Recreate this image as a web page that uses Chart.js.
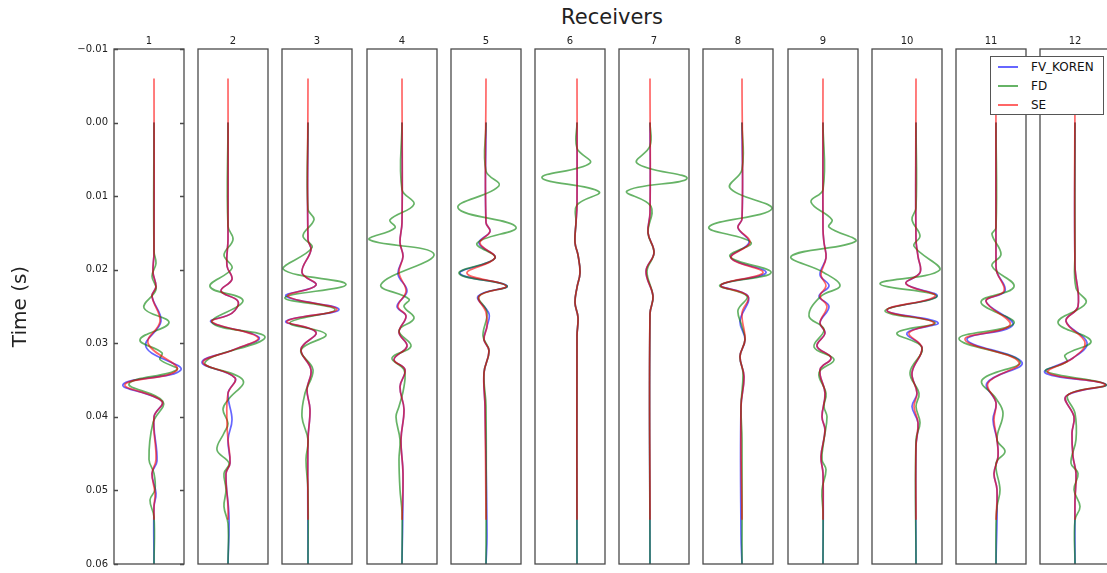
<!DOCTYPE html>
<html>
<head>
<meta charset="utf-8">
<script src="https://cdn.jsdelivr.net/npm/chart.js@4.4.1/dist/chart.umd.min.js"></script>
<style>
  html, body { margin: 0; padding: 0; background: #fff; }
  #fig { position: relative; width: 1107px; height: 573px; overflow: hidden; font-family: "DejaVu Sans", sans-serif; }
  #fig canvas { position: absolute; top: 0; }
  #suptitle { position: absolute; left: 512px; width: 200px; top: 7px; line-height: 21px; text-align: center; font-size: 21px; color: #222; }
  #legend { position: absolute; left: 990px; top: 56px; width: 114px; height: 59px; box-sizing: border-box; border: 1px solid #555; background: #fff; z-index: 5; }
  .row { position: absolute; left: 0; height: 14px; font-size: 12px; line-height: 14px; color: #111; }
  .row span.line { position: absolute; left: 7px; top: 6px; width: 20px; height: 2px; }
  .row span.txt { position: absolute; left: 40px; top: 0; white-space: nowrap; }
</style>
</head>
<body>
<div id="fig">
  <div id="suptitle">Receivers</div>
  <div id="legend"></div>
</div>
<script>
// Receivers and axes
const receivers = ["1", "2", "3", "4", "5", "6", "7", "8", "9", "10", "11", "12"];
const yTicks = [-0.01, 0, 0.01, 0.02, 0.03, 0.04, 0.05, 0.06];
const ampMin = [-40, -30, -26, -35, -35, -42, -31, -39, -35, -44, -40, -35];
const ampMax = [30, 40, 44, 35, 35, 28, 39, 31, 35, 26, 30, 35];
const seriesNames = ["FV_KOREN", "FD", "SE"];

// Traces: [time (s), amplitude] per receiver
const koren = [
  [[0,0],[0.0177,0],[0.0204,-1],[0.0223,2],[0.0236,-2],[0.0270,7],[0.0305,-8],[0.0336,27],[0.0356,-31],[0.0379,8],[0.0400,0],[0.0460,3],[0.0477,-2],[0.0504,2],[0.0522,0],[0.06,0]],
  [[0,0],[0.0159,0],[0.0195,-1],[0.0213,4],[0.0229,-7],[0.0243,10],[0.0259,4],[0.0271,-17],[0.0292,31],[0.0309,5],[0.0326,-26],[0.0347,7],[0.0368,0],[0.0404,4],[0.0431,0],[0.0463,2],[0.0477,-2],[0.0536,1],[0.06,0]],
  [[0,0],[0.0159,0],[0.0173,3],[0.0204,-6],[0.0221,8],[0.0236,-22],[0.0254,31],[0.0270,-22],[0.0285,8],[0.0308,-7],[0.0336,3],[0.0363,-1],[0.0390,2],[0.0431,0],[0.06,0]],
  [[0,0],[0.0136,0],[0.0163,-2],[0.0182,1],[0.0206,-4],[0.0229,5],[0.0250,-5],[0.0263,4],[0.0285,-3],[0.0304,5],[0.0322,-8],[0.0336,3],[0.0359,-2],[0.0390,2],[0.0431,-1],[0.0477,1],[0.06,0]],
  [[0,0],[0.0136,0],[0.0148,4],[0.0164,-7],[0.0184,9],[0.0205,-26],[0.0222,21],[0.0236,-8],[0.0260,3],[0.0277,1],[0.0295,-2],[0.0310,3],[0.0340,-2],[0.0386,-1],[0.0560,1],[0.06,0]],
  [[0,0],[0.0113,0],[0.0136,-1],[0.0163,-2],[0.0180,1],[0.0204,3],[0.0224,0],[0.0245,-2],[0.0265,1],[0.0290,0],[0.06,0]],
  [[0,0],[0.0123,0],[0.0150,-2],[0.0177,4],[0.0202,-4],[0.0236,3],[0.0260,0],[0.06,0]],
  [[0,0],[0.0131,0],[0.0143,-4],[0.0163,7],[0.0184,-11],[0.0204,24],[0.0221,-21],[0.0236,6],[0.0270,-2],[0.0295,3],[0.0318,-2],[0.0345,2],[0.0386,-1],[0.0560,-1],[0.06,0]],
  [[0,0],[0.0145,0],[0.0163,1],[0.0184,3],[0.0207,-3],[0.0222,6],[0.0236,-4],[0.0250,6],[0.0272,-3],[0.0286,2],[0.0304,-6],[0.0320,8],[0.0336,-3],[0.0368,2],[0.0400,-1],[0.0418,2],[0.0454,-2],[0.0477,0],[0.06,0]],
  [[0,0],[0.0159,0],[0.0182,2],[0.0204,4],[0.0219,-10],[0.0236,21],[0.0255,-29],[0.0272,22],[0.0286,-9],[0.0306,6],[0.0340,-4],[0.0368,1],[0.0386,-4],[0.0408,2],[0.0440,0],[0.06,0]],
  [[0,0],[0.0195,0],[0.0204,1],[0.0229,9],[0.0243,-10],[0.0275,17],[0.0295,-29],[0.0326,26],[0.0354,-9],[0.0381,0],[0.0404,-3],[0.0431,1],[0.0454,2],[0.0477,-2],[0.0499,1],[0.06,0]],
  [[0,0],[0.0195,0],[0.0250,3],[0.0270,-9],[0.0299,12],[0.0320,-2],[0.0340,-30],[0.0356,31],[0.0372,-9],[0.0400,-1],[0.0422,-3],[0.0454,-2],[0.0477,1],[0.0513,0],[0.06,0]]
];

const fd = [
  [[0,0],[0.0175,0],[0.0191,2],[0.0209,-2],[0.0227,2],[0.0252,-10],[0.0272,15],[0.0295,-14],[0.0313,8],[0.0322,6],[0.0336,23],[0.0355,-25],[0.0379,9],[0.0408,-1],[0.0458,-5],[0.0477,0],[0.0499,1],[0.0513,-4],[0.0536,0],[0.06,0]],
  [[0,0],[0.0141,0],[0.0159,5],[0.0180,-4],[0.0198,4],[0.0223,-18],[0.0242,15],[0.0272,-16],[0.0292,37],[0.0326,-23],[0.0350,15],[0.0377,0],[0.0390,-5],[0.0409,0],[0.0422,-4],[0.0445,-11],[0.0463,1],[0.0477,-4],[0.0499,-2],[0.0522,-4],[0.0545,0],[0.06,0]],
  [[0,0],[0.0118,0],[0.0132,6],[0.0154,-5],[0.0170,4],[0.0199,-25],[0.0220,38],[0.0238,-23],[0.0254,27],[0.0272,-18],[0.0288,18],[0.0309,-7],[0.0336,5],[0.0368,-3],[0.0400,-6],[0.0431,0],[0.0458,-2],[0.0500,0],[0.06,0]],
  [[0,0],[0.0091,0],[0.0111,12],[0.0132,-12],[0.0143,-7],[0.0159,-33],[0.0179,32],[0.0220,-21],[0.0240,7],[0.0250,2],[0.0266,12],[0.0283,-3],[0.0304,9],[0.0320,-10],[0.0336,2],[0.0359,2],[0.0386,-3],[0.0400,-6],[0.0431,-2],[0.0458,-3],[0.0499,-2],[0.0530,0],[0.06,0]],
  [[0,0],[0.0066,0],[0.0086,13],[0.0116,-28],[0.0142,30],[0.0164,-9],[0.0184,9],[0.0205,-27],[0.0222,21],[0.0236,-7],[0.0258,1],[0.0290,-3],[0.0310,3],[0.0340,-2],[0.0386,0],[0.06,0]],
  [[0,0],[0.0035,0],[0.0055,13],[0.0075,-35],[0.0094,22],[0.0112,0],[0.0136,-1],[0.0163,-2],[0.0180,1],[0.0204,3],[0.0224,0],[0.0245,-2],[0.0265,1],[0.0290,0],[0.06,0]],
  [[0,0],[0.0032,0],[0.0055,-13],[0.0076,37],[0.0093,-23],[0.0114,1],[0.0150,-2],[0.0177,4],[0.0202,-3],[0.0236,3],[0.0260,0],[0.06,0]],
  [[0,0],[0.0064,0],[0.0089,-12],[0.0117,30],[0.0142,-33],[0.0163,9],[0.0182,-12],[0.0204,29],[0.0221,-22],[0.0236,5],[0.0255,-4],[0.0277,0],[0.0295,3],[0.0318,-2],[0.0340,1],[0.0386,-1],[0.0431,0],[0.06,0]],
  [[0,0],[0.0091,0],[0.0108,-12],[0.0132,9],[0.0142,6],[0.0161,33],[0.0182,-32],[0.0204,1],[0.0222,17],[0.0236,-2],[0.0263,-14],[0.0281,1],[0.0305,-9],[0.0322,11],[0.0340,-4],[0.0368,3],[0.0386,1],[0.0400,4],[0.0431,1],[0.0458,-1],[0.0472,3],[0.0499,-1],[0.0530,0],[0.06,0]],
  [[0,0],[0.0116,0],[0.0132,-4],[0.0154,4],[0.0168,-2],[0.0200,24],[0.0219,-36],[0.0236,21],[0.0256,-31],[0.0272,19],[0.0286,-19],[0.0306,6],[0.0340,-6],[0.0368,3],[0.0386,0],[0.0408,4],[0.0431,0],[0.06,0]],
  [[0,0],[0.0143,0],[0.0152,-4],[0.0179,5],[0.0195,-4],[0.0223,18],[0.0244,-15],[0.0273,18],[0.0294,-37],[0.0325,24],[0.0350,-14],[0.0375,0],[0.0395,7],[0.0431,1],[0.0447,9],[0.0463,0],[0.0499,4],[0.0522,1],[0.0545,0],[0.06,0]],
  [[0,0],[0.0177,0],[0.0225,1],[0.0245,11],[0.0272,-17],[0.0297,16],[0.0316,-10],[0.0325,-8],[0.0338,-29],[0.0356,31],[0.0370,-7],[0.0395,0],[0.0431,1],[0.0463,-4],[0.0477,3],[0.0499,-1],[0.0522,5],[0.0540,0],[0.06,0]]
];

const se = [
  [[-0.006,0],[0.0177,0],[0.0204,-1],[0.0223,2],[0.0236,-2],[0.0270,6],[0.0300,-6],[0.0336,23],[0.0356,-29],[0.0379,8],[0.0400,0],[0.0458,2],[0.0477,-2],[0.0504,1],[0.0522,0],[0.054,0]],
  [[-0.006,0],[0.0159,0],[0.0195,-1],[0.0213,4],[0.0229,-7],[0.0243,10],[0.0259,4],[0.0271,-16],[0.0292,30],[0.0309,5],[0.0326,-25],[0.0347,7],[0.0368,0],[0.0409,-1],[0.0431,0],[0.0463,2],[0.0477,-2],[0.0522,0],[0.054,0]],
  [[-0.006,0],[0.0159,0],[0.0173,3],[0.0204,-6],[0.0221,8],[0.0236,-20],[0.0254,29],[0.0270,-21],[0.0285,8],[0.0308,-7],[0.0336,3],[0.0363,-1],[0.0390,2],[0.0431,0],[0.054,0]],
  [[-0.006,0],[0.0136,0],[0.0163,-2],[0.0182,1],[0.0204,-3],[0.0229,4],[0.0250,-4],[0.0263,4],[0.0285,-3],[0.0304,5],[0.0322,-8],[0.0336,3],[0.0359,-2],[0.0390,2],[0.0431,-1],[0.0477,1],[0.054,0]],
  [[-0.006,0],[0.0136,0],[0.0148,4],[0.0164,-6],[0.0184,9],[0.0205,-19],[0.0222,20],[0.0236,-7],[0.0258,0],[0.0277,1],[0.0295,-2],[0.0310,3],[0.0340,-2],[0.0386,-1],[0.054,0]],
  [[-0.006,0],[0.0113,0],[0.0136,-1],[0.0163,-2],[0.0180,1],[0.0204,3],[0.0224,0],[0.0245,-2],[0.0265,1],[0.0290,0],[0.054,0]],
  [[-0.006,0],[0.0123,0],[0.0150,-2],[0.0177,4],[0.0202,-4],[0.0236,3],[0.0260,0],[0.054,0]],
  [[-0.006,0],[0.0131,0],[0.0143,-4],[0.0163,8],[0.0184,-11],[0.0204,21],[0.0221,-21],[0.0236,6],[0.0259,0],[0.0295,3],[0.0318,-2],[0.0345,2],[0.0386,-1],[0.054,0]],
  [[-0.006,0],[0.0145,0],[0.0163,1],[0.0184,3],[0.0207,-2],[0.0222,3],[0.0236,-3],[0.0250,4],[0.0272,-3],[0.0286,2],[0.0304,-6],[0.0320,8],[0.0336,-3],[0.0368,2],[0.0400,-1],[0.0418,2],[0.0454,-2],[0.0477,0],[0.054,0]],
  [[-0.006,0],[0.0159,0],[0.0182,2],[0.0204,4],[0.0219,-10],[0.0236,19],[0.0255,-29],[0.0272,18],[0.0286,-7],[0.0306,6],[0.0340,-4],[0.0368,1],[0.0386,-2],[0.0408,2],[0.0440,0],[0.054,0]],
  [[-0.006,0],[0.0195,0],[0.0204,1],[0.0229,8],[0.0243,-10],[0.0275,14],[0.0295,-31],[0.0326,23],[0.0354,-8],[0.0381,0],[0.0404,-2],[0.0431,1],[0.0454,2],[0.0477,-2],[0.0499,1],[0.054,0]],
  [[-0.006,0],[0.0195,0],[0.0250,3],[0.0270,-9],[0.0299,10],[0.0320,-2],[0.0340,-27],[0.0356,30],[0.0372,-9],[0.0400,-1],[0.0422,-3],[0.0454,-2],[0.0477,1],[0.0513,0],[0.054,0]]
];

const colors = ["rgba(0, 0, 255, 0.6)", "rgba(0, 128, 0, 0.6)", "rgba(255, 0, 0, 0.6)"];

// Layout of the subplot grid (pixels)
const PLOT_TOP = 49;
const PLOT_BOTTOM = 564;
const FIG_H = 573;
const FIRST_LEFT = 114;
const STEP = 84.2;
const PANEL_W = 70;

// Box and inward y ticks, like matplotlib classic axes
const framePlugin = {
  id: "frame",
  afterDatasetsDraw(chart, args, opts) {
    const { ctx, chartArea: a, scales } = chart;
    ctx.save();
    ctx.strokeStyle = "#4a4a4a";
    ctx.lineWidth = 1.3;
    ctx.strokeRect(a.left, a.top, a.right - a.left, a.bottom - a.top);
    if (opts.ticks) {
      yTicks.forEach((v) => {
        const y = Math.round(scales.y.getPixelForValue(v)) + 0.5;
        ctx.beginPath();
        ctx.moveTo(a.left, y);
        ctx.lineTo(a.left + 4, y);
        ctx.moveTo(a.right, y);
        ctx.lineTo(a.right - 4, y);
        ctx.stroke();
      });
    }
    ctx.restore();
  },
};

function toPoints(trace) {
  return trace.map((p) => ({ x: p[1], y: p[0] }));
}

function makePanel(i) {
  const first = i === 0;
  const left = Math.round(FIRST_LEFT + STEP * i);
  const padL = first ? FIRST_LEFT : 2;
  const canvas = document.createElement("canvas");
  canvas.width = padL + PANEL_W + 2;
  canvas.height = FIG_H;
  canvas.style.left = left - padL + "px";
  document.getElementById("fig").appendChild(canvas);

  const ds = (data, k, order) => ({
    label: seriesNames[k],
    data: toPoints(data),
    borderColor: colors[k],
    borderWidth: 1.7,
    pointRadius: 0,
    tension: 0.4,
    fill: false,
    order: order,
  });

  new Chart(canvas.getContext("2d"), {
    type: "line",
    data: {
      datasets: [ds(koren[i], 0, 2), ds(fd[i], 1, 1), ds(se[i], 2, 0)],
    },
    options: {
      responsive: false,
      animation: false,
      indexAxis: "y",
      events: [],
      layout: { padding: { top: 0, right: 2, bottom: FIG_H - PLOT_BOTTOM, left: first ? 0 : 2 } },
      scales: {
        x: {
          type: "linear",
          position: "top",
          min: ampMin[i],
          max: ampMax[i],
          ticks: { display: false },
          grid: { display: false },
          border: { display: false },
          title: {
            display: true,
            text: receivers[i],
            color: "#222",
            font: { family: "DejaVu Sans", size: 10 },
            padding: { top: 35, bottom: 0 },
          },
          afterFit: (s) => { s.height = PLOT_TOP; },
        },
        y: {
          type: "linear",
          display: first,
          reverse: true,
          min: -0.01,
          max: 0.06,
          afterBuildTicks: (s) => { s.ticks = yTicks.map((v) => ({ value: v })); },
          ticks: {
            padding: 6,
            color: "#222",
            font: { family: "DejaVu Sans", size: 10 },
            callback: (v) => v.toFixed(2).replace("-", "\u2212"),
          },
          grid: { display: false, drawTicks: false },
          border: { display: false },
          title: {
            display: first,
            text: "Time (s)",
            color: "#222",
            font: { family: "DejaVu Sans", size: 20 },
            padding: { top: 9, bottom: 0 },
          },
          afterFit: (s) => {
            if (first) {
              s.width = FIRST_LEFT;
              s.paddingTop = 0;
              s.paddingBottom = 0;
            }
          },
        },
      },
      plugins: {
        legend: { display: false },
        tooltip: { enabled: false },
        frame: { ticks: first },
      },
    },
    plugins: [framePlugin],
  });
}

receivers.forEach((r, i) => makePanel(i));

// Legend box (top right, over panels 11 and 12)
const legend = document.getElementById("legend");
seriesNames.forEach((name, k) => {
  const row = document.createElement("div");
  row.className = "row";
  row.style.top = 3 + k * 19 + "px";
  row.style.width = "100%";
  row.innerHTML = `<span class="line" style="background:${colors[k]}"></span><span class="txt">${name}</span>`;
  legend.appendChild(row);
});
</script>
</body>
</html>
